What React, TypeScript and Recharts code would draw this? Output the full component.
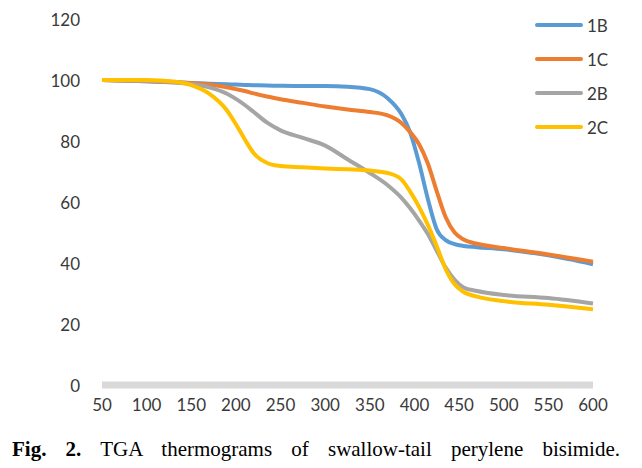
import { Legend, Line, LineChart, XAxis, YAxis } from "recharts"

const temps = [50, 100, 130, 150, 170, 190, 200, 210, 220, 235, 250, 275, 300, 325, 350, 370, 385, 395, 405, 415, 425, 435, 445, 455, 470, 500, 550, 600]

const s1B = [100, 99.6, 99.3, 99, 98.8, 98.6, 98.5, 98.4, 98.3, 98.2, 98.1, 98, 98, 97.8, 97, 94, 89, 83, 73, 61, 51, 47.5, 46.2, 45.6, 45.2, 44.5, 42.5, 39.6]
const s1C = [100, 99.6, 99.3, 99, 98.5, 97.6, 97, 96.4, 95.6, 94.6, 93.7, 92.5, 91.3, 90.3, 89.5, 88.4, 86, 83, 79, 72.6, 63.5, 55, 50, 47.7, 46.3, 44.9, 42.8, 40.4]
const s2B = [100, 99.7, 99.3, 98.7, 97.6, 95.5, 93.8, 91.8, 89.5, 86, 83.5, 81, 78.5, 74, 69.5, 65.5, 61.5, 58, 54, 49.5, 44, 38.5, 34.5, 32, 30.8, 29.5, 28.5, 26.7]
const s2C = [100, 100, 99.5, 98.3, 95.5, 90, 85.5, 80.5, 76, 72.8, 71.8, 71.4, 71, 70.7, 70.3, 69.5, 67.5, 63.5, 58.5, 52.5, 45.5, 38, 33, 30.5, 29, 27.5, 26.3, 24.8]

const xTicks = [50, 100, 150, 200, 250, 300, 350, 400, 450, 500, 550, 600]
const yTicks = [0, 20, 40, 60, 80, 100, 120]

const series = [
  { key: "1B", color: "#5B9BD5" },
  { key: "1C", color: "#ED7D31" },
  { key: "2B", color: "#A5A5A5" },
  { key: "2C", color: "#FFC000" },
]

const data = temps.map((t, i) => ({ t, "1B": s1B[i], "1C": s1C[i], "2B": s2B[i], "2C": s2C[i] }))

const tickStyle = { fontSize: 17, fill: "#3a3a3a", fontFamily: "Lato, sans-serif" }

function YTick({ x, y, payload }: any) {
  return (
    <text x={x - 2} y={y} textAnchor="end" dominantBaseline="central" {...tickStyle}>
      {payload.value}
    </text>
  )
}

function LegendBox({ payload }: any) {
  return (
    <div style={{ display: "flex", flexDirection: "column", gap: 14 }}>
      {(payload || []).map((p: any) => (
        <div key={p.value} style={{ display: "flex", alignItems: "center", height: 20 }}>
          <div style={{ width: 48, height: 4, borderRadius: 2, background: p.color, marginRight: 4 }} />
          <span style={{ fontSize: 17, color: "#3a3a3a", fontFamily: "Lato, sans-serif" }}>{p.value}</span>
        </div>
      ))}
    </div>
  )
}

export default function App() {
  return (
    <div style={{ position: "absolute", left: 0, top: 0, width: 642, height: 468, background: "#fff" }}>
      <LineChart width={642} height={430} data={data} margin={{ top: 19, right: 49, left: 0, bottom: 15 }}>
        <XAxis
          dataKey="t"
          type="number"
          domain={[50, 600]}
          ticks={xTicks}
          tickLine={false}
          tickSize={0}
          tickMargin={14}
          height={30}
          axisLine={{ stroke: "#d9d9d9", strokeWidth: 7 }}
          tick={tickStyle}
          interval={0}
        />
        <YAxis
          domain={[0, 120]}
          ticks={yTicks}
          axisLine={false}
          tickLine={false}
          tickSize={0}
          tickMargin={20}
          width={102}
          tick={<YTick />}
        />
        <Legend
          layout="vertical"
          verticalAlign="middle"
          align="center"
          content={<LegendBox />}
          wrapperStyle={{ position: "absolute", left: 535, top: 15, width: 100, height: 140 }}
        />
        {series.map((s) => (
          <Line
            key={s.key}
            type="monotone"
            dataKey={s.key}
            name={s.key}
            stroke={s.color}
            strokeWidth={4}
            dot={false}
            isAnimationActive={false}
          />
        ))}
      </LineChart>
      <div
        style={{
          position: "absolute",
          left: 12,
          top: 438,
          width: 608,
          fontFamily: "'Liberation Serif', 'Times New Roman', serif",
          fontSize: 21,
          lineHeight: "22px",
          color: "#000",
          textAlign: "justify",
          textAlignLast: "justify",
        }}
      >
        <b>Fig. 2.</b> TGA thermograms of swallow-tail perylene bisimide.
      </div>
    </div>
  )
}
